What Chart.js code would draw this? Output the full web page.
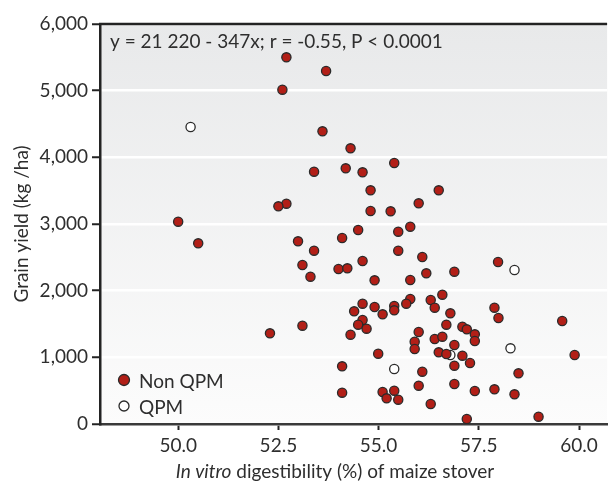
<!DOCTYPE html>
<html>
<head>
<meta charset="utf-8">
<script src="https://cdn.jsdelivr.net/npm/chart.js@4.4.1/dist/chart.umd.min.js"></script>
<style>
  html, body { margin: 0; padding: 0; background: #fff; }
  #wrap { width: 613px; height: 485px; }
</style>
</head>
<body>
<div id="wrap"><canvas id="chart" width="613" height="485"></canvas></div>
<script>
// digestibility (%) and grain yield (kg/ha)
const nonQpmX = [52.70, 53.69, 52.60, 53.60, 54.30, 53.39, 54.18, 54.60, 55.39, 54.80,
  56.50, 54.80, 55.30, 56.00, 52.70, 52.50, 50.00, 50.50, 52.99, 53.39,
  53.10, 53.30, 54.00, 54.22, 54.09, 52.29, 53.10, 54.30, 54.09, 54.09,
  54.49, 55.49, 55.79, 55.49, 56.09, 54.60, 54.90, 55.79, 56.19, 56.89,
  57.98, 56.59, 56.30, 56.40, 55.79, 55.69, 55.39, 55.39, 54.90, 54.60,
  54.39, 55.10, 54.60, 54.49, 54.70, 56.79, 56.69, 56.00, 55.90, 55.90,
  56.40, 56.59, 56.89, 57.09, 57.20, 57.40, 57.40, 57.89, 57.99, 59.58,
  59.89, 56.50, 56.69, 57.09, 56.89, 57.28, 54.99, 56.09, 58.49, 56.00,
  56.89, 55.10, 55.39, 55.20, 55.49, 57.40, 57.89, 58.39, 56.30, 57.20,
  58.99];
const nonQpmY = [5500, 5295, 5015, 4390, 4135, 3785, 3835, 3775, 3915, 3505,
  3505, 3195, 3190, 3310, 3305, 3265, 3035, 2710, 2740, 2600,
  2385, 2210, 2325, 2335, 2790, 1360, 1475, 1340, 865, 470,
  2910, 2885, 2960, 2600, 2505, 2445, 2155, 2160, 2260, 2285,
  2430, 1940, 1860, 1745, 1875, 1805, 1770, 1705, 1755, 1805,
  1690, 1645, 1560, 1490, 1430, 1660, 1490, 1380, 1235, 1125,
  1275, 1310, 1185, 1460, 1420, 1345, 1245, 1745, 1590, 1545,
  1035, 1075, 1050, 1025, 875, 915, 1055, 785, 760, 575,
  600, 480, 500, 385, 365, 495, 520, 445, 300, 75,
  110];
const qpmX = [50.31, 58.39, 58.29, 56.79, 55.39];
const qpmY = [4455, 2310, 1135, 1035, 825];

const xTicks = [50, 52.5, 55, 57.5, 60];
const yTicks = [0, 1000, 2000, 3000, 4000, 5000, 6000];

const seriesNames = ['Non QPM', 'QPM'];
const equation = 'y = 21 220 - 347x; r = -0.55, P < 0.0001';

const FONT = 'Lato, "Open Sans", sans-serif';
const TEXT = '#2e2e2e';
const AXIS = '#232323';

const toPoints = (xs, ys) => xs.map((x, i) => ({ x: x, y: ys[i] }));

// gradient panel, top frame line, equation, legend and x title
const decor = {
  id: 'decor',
  beforeDraw(chart) {
    const { ctx, chartArea: a } = chart;
    const g = ctx.createLinearGradient(0, a.top, 0, a.bottom);
    g.addColorStop(0, '#e8e9ea');
    g.addColorStop(1, '#fcfcfc');
    ctx.save();
    ctx.fillStyle = g;
    ctx.fillRect(a.left, a.top, a.right - a.left, a.bottom - a.top);
    ctx.restore();
  },
  afterDraw(chart) {
    const { ctx, chartArea: a } = chart;
    ctx.save();
    ctx.strokeStyle = AXIS;
    ctx.lineWidth = 2.5;
    ctx.beginPath();
    ctx.moveTo(a.left - 1, a.top);
    ctx.lineTo(a.right, a.top);
    ctx.stroke();

    ctx.fillStyle = TEXT;
    ctx.textBaseline = 'middle';
    ctx.font = '19px ' + FONT;
    ctx.fillText(equation, a.left + 10, a.top + 18);

    // legend, bottom-left inside the panel
    const ds = chart.data.datasets;
    const rows = [380, 406];
    ds.forEach((d, i) => {
      ctx.beginPath();
      ctx.arc(124, rows[i], i === 0 ? 5.5 : 5, 0, Math.PI * 2);
      ctx.fillStyle = d.backgroundColor;
      ctx.fill();
      ctx.lineWidth = 1.3;
      ctx.strokeStyle = d.borderColor;
      ctx.stroke();
      ctx.fillStyle = TEXT;
      ctx.fillText(d.label, 139, rows[i] + 2);
    });

    // x title with italic "In vitro"
    const part1 = 'In vitro';
    const part2 = ' digestibility (%) of maize stover';
    ctx.font = 'italic 19px ' + FONT;
    const w1 = ctx.measureText(part1).width;
    ctx.font = '19px ' + FONT;
    const w2 = ctx.measureText(part2).width;
    let x = 335 - (w1 + w2) / 2;
    const y = 472;
    ctx.font = 'italic 19px ' + FONT;
    ctx.fillText(part1, x, y);
    ctx.font = '19px ' + FONT;
    ctx.fillText(part2, x + w1, y);
    ctx.restore();
  }
};

new Chart(document.getElementById('chart'), {
  type: 'scatter',
  data: {
    datasets: [
      {
        label: seriesNames[0],
        data: toPoints(nonQpmX, nonQpmY),
        backgroundColor: '#b21f17',
        borderColor: '#2a2a2a',
        borderWidth: 1.3,
        pointRadius: 4.6,
        pointHoverRadius: 4.6
      },
      {
        label: seriesNames[1],
        data: toPoints(qpmX, qpmY),
        backgroundColor: '#ffffff',
        borderColor: '#2a2a2a',
        borderWidth: 1.3,
        pointRadius: 4.6,
        pointHoverRadius: 4.6
      }
    ]
  },
  options: {
    responsive: false,
    animation: false,
    layout: { padding: { top: 24, right: 0, left: 0, bottom: 0 } },
    plugins: {
      legend: { display: false },
      tooltip: { enabled: false }
    },
    scales: {
      x: {
        type: 'linear',
        min: 48.05,
        max: 60.7,
        afterBuildTicks: (scale) => { scale.ticks = xTicks.map(v => ({ value: v })); },
        afterFit: (scale) => { scale.height = 61; },
        ticks: {
          color: TEXT,
          font: { family: FONT, size: 19 },
          padding: 4,
          maxRotation: 0,
          callback: (v) => Number(v).toFixed(1)
        },
        grid: {
          drawOnChartArea: false,
          drawTicks: true,
          tickLength: 6,
          tickColor: AXIS,
          tickWidth: 2
        },
        border: { color: '#3a3a3a', width: 2.5 }
      },
      y: {
        min: 0,
        max: 6000,
        afterBuildTicks: (scale) => { scale.ticks = yTicks.map(v => ({ value: v })); },
        afterFit: (scale) => { scale.width = 100; },
        ticks: {
          color: TEXT,
          font: { family: FONT, size: 19 },
          padding: 4,
          callback: (v) => Number(v).toLocaleString('en-US')
        },
        grid: {
          color: '#ffffff',
          lineWidth: 2.5,
          tickLength: 8,
          tickColor: AXIS,
          tickWidth: 2
        },
        border: { color: AXIS, width: 2.5 },
        title: {
          display: true,
          text: 'Grain yield (kg /ha)',
          color: TEXT,
          font: { family: FONT, size: 19 },
          padding: { top: 10, bottom: 0 }
        }
      }
    }
  },
  plugins: [decor]
});
</script>
</body>
</html>
